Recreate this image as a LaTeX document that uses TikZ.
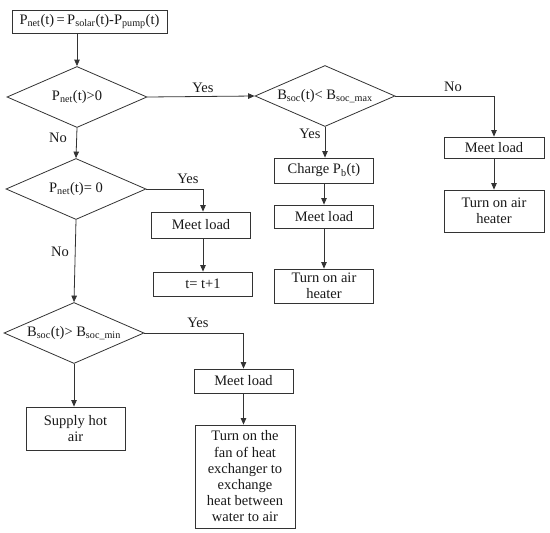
\documentclass[tikz,border=0pt]{standalone}
\usepackage{fontspec}
\setmainfont{Liberation Serif}
\usetikzlibrary{shapes.geometric,arrows.meta}
\newcommand{\sbs}[1]{\textsubscript{#1}}
\begin{document}
\begin{tikzpicture}[x=1pt,y=1pt,
  font=\fontsize{14.5}{16.2}\selectfont,
  every node/.style={text=black!90},
  box/.style={draw=black!80, line width=0.8pt, rectangle, inner sep=1pt, align=center, minimum width=99pt},
  dia/.style={draw=black!80, line width=0.8pt, diamond, aspect=2.3, inner sep=0pt, minimum width=140pt, minimum height=61pt},
  arr/.style={draw=black!80, line width=0.8pt, -{Triangle[length=6.5pt,width=5.5pt]}},
  lbl/.style={font=\fontsize{14.5}{16}\selectfont}]
\useasboundingbox (0,0) rectangle (550,-533);

\node[box, minimum width=155pt, minimum height=23pt] (top) at (89.5,-21.5) {P\sbs{net}(t)\,=\,P\sbs{solar}(t)-P\sbs{pump}(t)};
\node[dia] (d1) at (77,-97) {P\sbs{net}(t)>0};
\node[dia] (d2) at (325,-96) {B\sbs{soc}(t)< B\sbs{soc\_max}};
\node[dia] (d3) at (76,-189) {P\sbs{net}(t)= 0};
\node[dia] (d4) at (74,-333) {B\sbs{soc}(t)> B\sbs{soc\_min}};

\node[box, minimum width=100pt, minimum height=21pt] (ml1) at (494,-147.5) {Meet load};
\node[box, minimum width=100pt, minimum height=42pt] (heat1) at (494,-211) {Turn on air\\heater};

\node[box, minimum height=25pt] (charge) at (324,-170.5) {Charge P\sbs{b}(t)};
\node[box, minimum height=23pt] (ml2) at (324,-216.5) {Meet load};
\node[box, minimum height=34pt] (heat2) at (324,-286) {Turn on air\\heater};

\node[box, minimum height=26pt] (ml3) at (201,-225) {Meet load};
\node[box, minimum height=24pt] (tt) at (203,-284) {t= t+1};

\node[box, minimum height=24pt] (ml4) at (243.5,-381) {Meet load};
\node[box, minimum width=100pt, minimum height=103pt] (fan) at (245,-476.5) {Turn on the\\fan of heat\\exchanger to\\exchange\\heat between\\water to air};
\node[box, minimum height=43pt] (supply) at (75.5,-428.5) {Supply hot\\air};

\draw[arr] (d1.north |- top.south) -- (d1.north);
\draw[arr] (d1.east) -- (d2.west);
\draw[arr] (d2.east) -| (ml1.north);
\draw[arr] (ml1.south) -- (heat1.north);
\draw[arr] (d2.south) -- (d2.south |- charge.north);
\draw[arr] (charge.south) -- (ml2.north);
\draw[arr] (ml2.south) -- (heat2.north);
\draw[arr] (d1.south) -- (d3.north);
\draw[arr] (d3.east) -| (tt.north |- ml3.north);
\draw[arr] (tt.north |- ml3.south) -- (tt.north);
\draw[arr] (d3.south) -- (d4.north);
\draw[arr] (d4.east) -| (ml4.north);
\draw[arr] (ml4.south) -- (ml4.south |- fan.north);
\draw[arr] (d4.south) -- (d4.south |- supply.north);

\node[lbl] (y1) at (203,-88) {Yes};
\node[lbl] (n1) at (453,-87) {No};
\node[lbl] (y2) at (310,-134) {Yes};
\node[lbl] (n2) at (58,-138) {No};
\node[lbl] (y3) at (188,-179) {Yes};
\node[lbl] (n3) at (60,-252) {No};
\node[lbl] (y4) at (198,-323) {Yes};
\end{tikzpicture}
\end{document}
